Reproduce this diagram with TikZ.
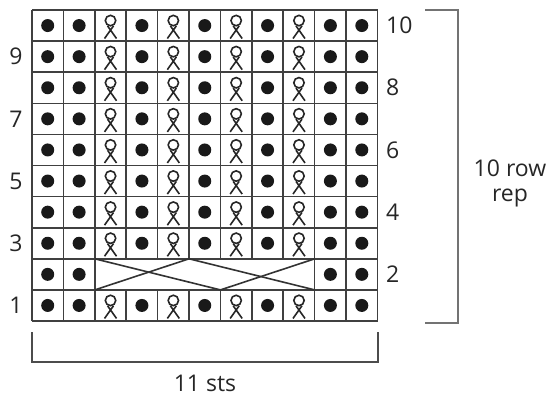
\documentclass[tikz,border=0pt]{standalone}
\usepackage{fontspec}
\setmainfont{Open Sans}
\begin{document}
\begin{tikzpicture}[x=1pt,y=-1pt,
  gridline/.style={draw=black!75,line width=1.6pt},
  purl/.style={circle,fill=black!90,inner sep=0pt,minimum size=13pt},
  cableline/.style={draw=black!80,line width=1.6pt},
  bracket/.style={draw=black!55,line width=2pt},
  bbracket/.style={draw=black!70,line width=1.6pt},
  lbl/.style={font=\fontsize{23}{24}\selectfont,inner sep=0pt,text=black!85},
  twist/.pic={
    \draw[line width=1.6pt,black!85] (0,-5) circle (5.2);
    \draw[line width=1.6pt,black!85] (-3,0.3) -- (6,13) (3,0.3) -- (-6,13);
  }]
\useasboundingbox (0,0) rectangle (555,402);
\def\cw{31.41}
\def\rh{31.1}
\def\xo{32}
\def\yb{321}
% purl dots and twisted stitches
\foreach \r in {1,3,4,5,6,7,8,9,10}{
  \foreach \c in {1,2,4,6,8,10,11}{
    \node[purl] (p-\c-\r) at ({\xo+(\c-0.5)*\cw},{\yb-(\r-0.5)*\rh}) {};
  }
  \foreach \c in {3,5,7,9}{
    \pic at ({\xo+(\c-0.5)*\cw},{\yb-(\r-0.5)*\rh}) {twist};
  }
}
\foreach \c in {1,2,10,11}{
  \node[purl] (p-\c-2) at ({\xo+(\c-0.5)*\cw},{\yb-1.5*\rh}) {};
}
% grid: horizontal lines
\foreach \i in {0,...,10}{
  \draw[gridline] (\xo,{\yb-\i*\rh}) -- ({\xo+11*\cw},{\yb-\i*\rh});
}
% vertical lines
\foreach \i in {0,1,2,9,10,11}{
  \draw[gridline] ({\xo+\i*\cw},{\yb}) -- ({\xo+\i*\cw},{\yb-10*\rh});
}
\foreach \i in {3,...,8}{
  \draw[gridline] ({\xo+\i*\cw},{\yb}) -- ({\xo+\i*\cw},{\yb-\rh});
  \draw[gridline] ({\xo+\i*\cw},{\yb-2*\rh}) -- ({\xo+\i*\cw},{\yb-10*\rh});
}
% cable
\coordinate (cT0) at ({\xo+2*\cw},{\yb-2*\rh});
\coordinate (cT3) at ({\xo+5*\cw},{\yb-2*\rh});
\coordinate (cT7) at ({\xo+9*\cw},{\yb-2*\rh});
\coordinate (cB0) at ({\xo+2*\cw},{\yb-\rh});
\coordinate (cB4) at ({\xo+6*\cw},{\yb-\rh});
\coordinate (cB7) at ({\xo+9*\cw},{\yb-\rh});
\draw[cableline] (cB0) -- (cT3) -- (cB7);
\draw[cableline] (cT0) -- (cB4) -- (cT7);
% row numbers
\foreach \r in {1,3,5,7,9}{
  \node[lbl] (l\r) at (16,{\yb-(\r-0.5)*\rh}) {\r};
}
\foreach \r in {2,4,6,8,10}{
  \node[lbl,anchor=west] (r\r) at (386,{\yb-(\r-0.5)*\rh}) {\r};
}
% right bracket
\coordinate (rb1) at (425,10);
\coordinate (rb2) at (458,10);
\coordinate (rb3) at (458,323);
\coordinate (rb4) at (425,323);
\draw[bracket] (rb1) -- (rb2) -- (rb3) -- (rb4);
\node[lbl,align=center,font=\fontsize{23}{25}\selectfont] (rep) at (510,183) {10 row\\rep};
% bottom bracket
\coordinate (bb1) at (32,332);
\coordinate (bb2) at (32,362);
\coordinate (bb3) at (378,362);
\coordinate (bb4) at (378,332);
\draw[bbracket] (bb1) -- (bb2) -- (bb3) -- (bb4);
\node[lbl] (sts) at (205,383) {11 sts};
\end{tikzpicture}
\end{document}
